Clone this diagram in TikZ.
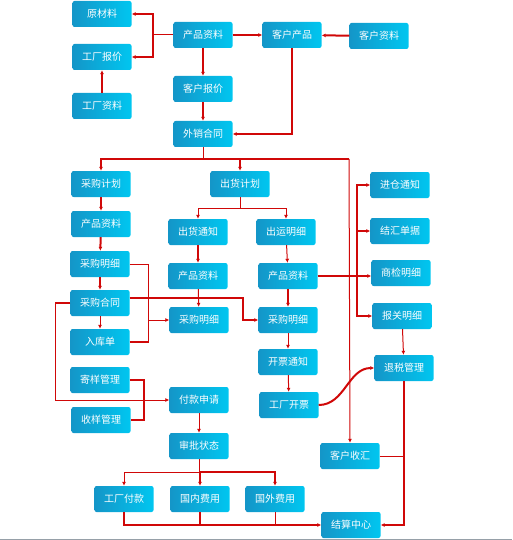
\documentclass[tikz,border=0pt]{standalone}
\usepackage{fontspec}
\setmainfont{Noto Sans CJK SC}
\usepackage{xcolor}
\definecolor{flowRed}   {RGB}{208,  8,  8}
\definecolor{boxDeep}   {RGB}{ 20, 150, 200}
\definecolor{boxBright} {RGB}{  0, 198, 240}
\definecolor{edgeGray}  {RGB}{150, 160, 168}
\usepackage{tikz}
\usetikzlibrary{
  arrows.meta,
  positioning,
  calc,
}

\begin{document}
\begin{tikzpicture}[
  x=1pt, y=-1pt,
  >={Latex[length=4pt,width=4pt]},
  box/.style={rounded corners=2pt, left color=boxDeep, right color=boxBright,
    draw=none, text=white, minimum width=59pt, minimum height=26pt,
    inner sep=0pt, font=\fontsize{10}{12}\selectfont},
  wire/.style={draw=flowRed, line width=1pt},
  fat/.style={draw=flowRed, line width=2pt},
]
  \useasboundingbox (0,0) rectangle (512,540);

  % Top block
  \node[box] (rawMat)    at (102, 14) {原材料};
  \node[box] (facQuote)  at (102, 57) {工厂报价};
  \node[box] (facInfo)   at (102,106) {工厂资料};
  \node[box] (prodTop)   at (203, 35) {产品资料};
  \node[box] (custProd)  at (292, 35) {客户产品};
  \node[box] (custInfo)  at (379, 36) {客户资料};
  \node[box] (custQuote) at (203, 89) {客户报价};
  \node[box] (salesCon)  at (203,134) {外销合同};

  % Purchase column
  \node[box] (purPlan)    at (101,184) {采购计划};
  \node[box] (prodA)      at (101,224) {产品资料};
  \node[box] (purDetA)    at (100,264) {采购明细};
  \node[box] (purCon)     at (100,303) {采购合同};
  \node[box] (inStock)    at (100,342) {入库单};
  \node[box] (sendSample) at (100,380) {寄样管理};
  \node[box] (recvSample) at (101,420) {收样管理};

  % Shipping columns
  \node[box] (shipPlan) at (240,184) {出货计划};
  \node[box] (shipNote) at (198,232) {出货通知};
  \node[box] (prodB)    at (198,276) {产品资料};
  \node[box] (purDetB)  at (199,320) {采购明细};
  \node[box] (shipDet)  at (286,232) {出运明细};
  \node[box] (prodC)    at (288,276) {产品资料};
  \node[box] (purDetC)  at (288,320) {采购明细};
  \node[box] (invNote)  at (288,362) {开票通知};
  \node[box] (facInv)   at (289,405) {工厂开票};

  % Documents column
  \node[box] (whNote)     at (400,185) {进仓通知};
  \node[box] (settleDoc)  at (400,231) {结汇单据};
  \node[box] (inspDet)    at (401,273) {商检明细};
  \node[box] (customsDet) at (402,316) {报关明细};
  \node[box] (taxRefund)  at (404,368) {退税管理};
  \node[box] (custRecv)   at (350,456) {客户收汇};

  % Payment block
  \node[box] (payReq)   at (199,400) {付款申请};
  \node[box] (approval) at (199,446) {审批状态};
  \node[box] (facPay)   at (124,499) {工厂付款};
  \node[box] (domFee)   at (200,499) {国内费用};
  \node[box] (forFee)   at (275,499) {国外费用};
  \node[box] (settle)   at (351,525) {结算中心};

  % Junctions
  \coordinate (jTop)  at (153, 35);
  \coordinate (busS)  at (203,159);
  \coordinate (busE)  at (349,159);
  \coordinate (jShip) at (240,208);
  \coordinate (jCon)  at (243,298);
  \coordinate (jDoc)  at (357,276);
  \coordinate (jPay)  at (199,472);

  % Top connectors
  \draw[wire] (prodTop.west) -- (jTop);
  \draw[fat,->] (jTop) |- (rawMat.east);
  \draw[fat,->] (jTop) |- (facQuote.east);
  \draw[fat,->] (prodTop) -- (custProd);
  \draw[fat,->] (custInfo) -- (custProd);
  \draw[fat,->] (facInfo) -- (facQuote);
  \draw[fat,->] (prodTop) -- (custQuote);
  \draw[fat,->] (custQuote) -- (salesCon);
  \draw[fat,->] (custProd.south) |- (salesCon.east);

  % Distribution bus
  \draw[wire] (salesCon.south) -- (busS);
  \draw[fat,->] (busS) -| (purPlan.north);
  \draw[fat,->] (busS) -| (shipPlan.north);
  \draw[fat] (busS) -- (busE);
  \draw[wire,->] (busE) -- (custRecv.north);

  % Purchase column
  \draw[fat,->] (purPlan) -- (prodA);
  \draw[fat,->] (prodA) -- (purDetA);
  \draw[fat,->] (purDetA) -- (purCon);
  \draw[wire,->] (purCon) -- (inStock);
  \draw[wire] (purDetA.east) -- ++(19pt,0) coordinate (jDet) |- (inStock.east);
  \draw[fat] (inStock.east) -- (inStock.east -| jDet);
  \draw[wire,->] (jDet |- purDetB) -- (purDetB.west);
  \draw[fat,->] ([yshift=5pt]purCon.east) -- (jCon) |- (purDetC.west);
  \draw[fat] (purCon.west) -- ++(-15pt,0) coordinate (jLeft);
  \draw[wire,->] (jLeft) |- (payReq.west);
  \draw[fat] (sendSample.east) -- ++(14pt,0) |- (recvSample.east);

  % Shipping
  \draw[wire] (shipPlan.south) -- (jShip);
  \draw[wire,->] (jShip) -| (shipNote.north);
  \draw[wire,->] (jShip) -| (shipDet.north);
  \draw[fat,->] (shipNote) -- (prodB);
  \draw[wire,->] (prodB) -- (purDetB);
  \draw[wire,->] (shipDet) -- (prodC);
  \draw[fat,->] (prodC) -- (purDetC);
  \draw[wire,->] (purDetC) -- (invNote);
  \draw[wire,->] (invNote) -- (facInv);

  % Documents
  \draw[fat,->] (prodC.east) -- (inspDet.west |- prodC.east);
  \draw[fat,->] (jDoc) |- (whNote.west);
  \draw[fat,->] (jDoc) |- (settleDoc.west);
  \draw[fat,->] (jDoc) |- (customsDet.west);
  \draw[wire,->] (customsDet) -- (taxRefund);
  \draw[fat,->] (facInv.east) to[out=0, in=180] (taxRefund.west);
  \draw[fat,->] (taxRefund.south) |- (settle.east);
  \draw[wire] (custRecv.east) -- (custRecv.east -| taxRefund.south);

  % Payment
  \draw[wire,->] (payReq) -- (approval);
  \draw[wire] (approval.south) -- (jPay);
  \draw[wire,->] (jPay) -| (facPay.north);
  \draw[fat,->] (jPay) -| (domFee.north);
  \draw[fat,->] (jPay) -| (forFee.north);
  \draw[fat,->] (facPay.south) |- (settle.west);
  \draw[fat] (domFee.south) -- (domFee.south |- settle.west);
  \draw[wire] (forFee.south) -- (forFee.south |- settle.west);

  % Bottom edge
  \draw[edgeGray, line width=1pt] (0,539.5) -- (512,539.5);
\end{tikzpicture}
\end{document}
